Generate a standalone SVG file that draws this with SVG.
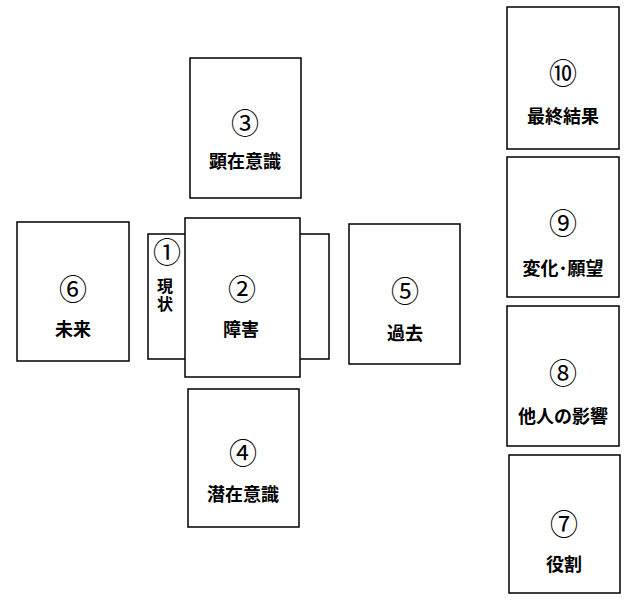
<svg xmlns="http://www.w3.org/2000/svg" width="640" height="600" viewBox="0 0 640 600">
<style>
.card{fill:#fff;stroke:#000;stroke-width:1.5}
.num{font-family:"Noto Sans CJK JP",serif;font-size:28px;text-anchor:middle;dominant-baseline:central;fill:#000}
.lbl{font-family:"Noto Sans CJK JP",sans-serif;font-size:18px;font-weight:bold;text-anchor:middle;dominant-baseline:central;fill:#000}
</style>
<rect width="640" height="600" fill="#fff"/>
<g id="card1">
<rect class="card" x="148" y="234" width="181" height="125"/>
<text class="num" x="167" y="251">①</text>
<text class="lbl" x="165" y="296" style="font-size:16px;writing-mode:vertical-rl;letter-spacing:2px">現状</text>
</g>
<g id="card2">
<rect class="card" x="185" y="218" width="115" height="159"/>
<text class="num" x="242" y="288">②</text>
<text class="lbl" x="241" y="328">障害</text>
</g>
<g id="card3">
<rect class="card" x="190" y="58" width="111" height="140"/>
<text class="num" x="245" y="122">③</text>
<text class="lbl" x="245" y="160">顕在意識</text>
</g>
<g id="card4">
<rect class="card" x="188" y="389" width="111" height="138"/>
<text class="num" x="243" y="452">④</text>
<text class="lbl" x="243" y="493">潜在意識</text>
</g>
<g id="card5">
<rect class="card" x="349" y="224" width="111" height="140"/>
<text class="num" x="405" y="290">⑤</text>
<text class="lbl" x="405" y="332">過去</text>
</g>
<g id="card6">
<rect class="card" x="17" y="222" width="112" height="139"/>
<text class="num" x="73" y="288">⑥</text>
<text class="lbl" x="73" y="328">未来</text>
</g>
<g id="card7">
<rect class="card" x="509" y="455" width="111" height="138"/>
<text class="num" x="564" y="523">⑦</text>
<text class="lbl" x="564" y="563">役割</text>
</g>
<g id="card8">
<rect class="card" x="507" y="306" width="112" height="140"/>
<text class="num" x="563" y="372">⑧</text>
<text class="lbl" x="563" y="415">他人の影響</text>
</g>
<g id="card9">
<rect class="card" x="507" y="157" width="112" height="140"/>
<text class="num" x="563" y="222">⑨</text>
<text class="lbl" x="563" y="267">変化･願望</text>
</g>
<g id="card10">
<rect class="card" x="507" y="7" width="112" height="142"/>
<text class="num" x="563" y="72">⑩</text>
<text class="lbl" x="563" y="115">最終結果</text>
</g>
<g id="connectors"></g>
</svg>
